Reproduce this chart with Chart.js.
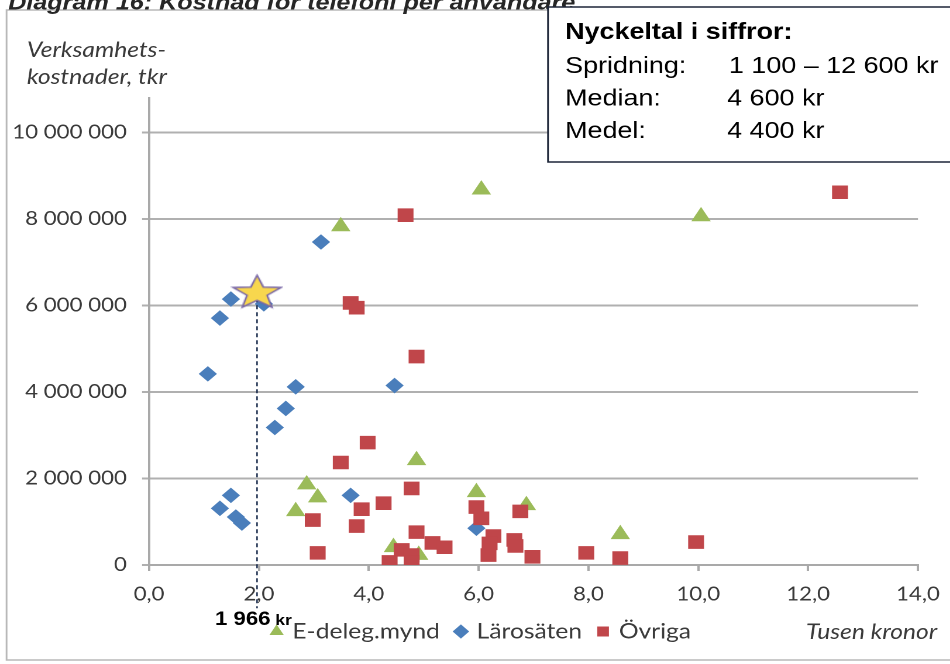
<!DOCTYPE html>
<html>
<head>
<meta charset="utf-8">
<script src="https://cdn.jsdelivr.net/npm/chart.js@4.4.1/dist/chart.umd.min.js"></script>
<style>
  html, body { margin: 0; padding: 0; background: #fff; overflow: hidden; }
  /* the source picture is stretched sideways, so the whole chart is too */
  #wrap { width: 812px; height: 664px; transform: scaleX(1.17); transform-origin: 0 0; }
  #chart { width: 812px; height: 664px; }
</style>
</head>
<body>
<div id="wrap"><canvas id="chart" width="812" height="664"></canvas></div>
<script>
// ── Data (x: tusen kronor per användare, y: verksamhetskostnader, tkr) ──

const seriesNames = ['E-deleg.mynd', 'Lärosäten', 'Övriga'];

const edelegX = [6.05, 10.05, 3.49, 4.87, 2.87, 3.07, 2.67, 5.96, 6.87, 8.58, 4.45, 4.91];
const edelegY = [8680000, 8060000, 7830000, 2420000, 1860000, 1560000, 1240000, 1680000, 1380000, 710000, 410000, 230000];

const larosatenX = [3.13, 1.49, 2.09, 1.29, 1.07, 2.67, 4.47, 2.49, 2.29, 1.49, 1.29, 1.58, 1.69, 3.67, 5.96];
const larosatenY = [7470000, 6150000, 6040000, 5710000, 4420000, 4120000, 4150000, 3620000, 3180000, 1610000, 1310000, 1110000, 970000, 1610000, 850000];

const ovrigaX = [12.58, 4.67, 3.67, 3.78, 4.87, 3.98, 3.49, 4.78, 4.27, 3.87, 2.98, 3.78, 3.07, 4.87, 5.16, 5.38,
                 4.60, 4.78, 4.38, 4.78, 5.96, 6.05, 6.27, 6.20, 6.18, 6.65, 6.67, 6.76, 6.98, 7.96, 8.58, 9.96];
const ovrigaY = [8620000, 8090000, 6060000, 5950000, 4820000, 2830000, 2370000, 1770000, 1430000, 1290000, 1040000, 900000, 280000, 760000, 510000, 410000,
                 350000, 230000, 70000, 70000, 1340000, 1080000, 670000, 500000, 230000, 580000, 440000, 1240000, 190000, 280000, 160000, 530000];

// highlighted organisation (star) and its marker line down past the axis
const starX = 1.966;
const starY = 6330000;
const starLabel = '1 966';

const xTicks = [0, 2, 4, 6, 8, 10, 12, 14];
const yTicks = [0, 2000000, 4000000, 6000000, 8000000, 10000000];

const keyTitle = 'Nyckeltal i siffror:';
const keyNames = ['Spridning:', 'Median:', 'Medel:'];
const keyValues = ['1 100 – 12 600 kr', '4 600 kr', '4 400 kr'];

// ── Helpers ───────────────────────────────────────────────────────────────

const FONT = "Lato, 'Open Sans', sans-serif";
const ARIAL = "'Liberation Sans', Arial, sans-serif";
const toPoints = (xs, ys) => xs.map((x, i) => ({ x, y: ys[i] }));
const spaced = v => String(Math.round(v)).replace(/\B(?=(\d{3})+(?!\d))/g, ' ');

// five-pointed star used as the point image
function makeStar(w, h) {
  const c = document.createElement('canvas');
  c.width = w; c.height = h;
  const g = c.getContext('2d');
  const rx = (w - 4) / 2 / Math.sin(2 * Math.PI / 5);
  const ry = (h - 4) / (1 + Math.cos(Math.PI / 5));
  const cx = w / 2, cy = 2 + ry;
  g.beginPath();
  for (let i = 0; i < 10; i++) {
    const a = -Math.PI / 2 + i * Math.PI / 5;
    const k = i % 2 ? 0.42 : 1;
    const px = cx + Math.cos(a) * rx * k;
    const py = cy + Math.sin(a) * ry * k;
    i ? g.lineTo(px, py) : g.moveTo(px, py);
  }
  g.closePath();
  g.fillStyle = '#f8d74e';
  g.fill();
  g.lineWidth = 1.5;
  g.strokeStyle = '#7866a6';
  g.stroke();
  return c;
}

const decor = {
  id: 'decor',
  beforeDraw(chart) {
    const ctx = chart.ctx;
    ctx.save();
    ctx.strokeStyle = '#b8b8b8';
    ctx.lineWidth = 1.5;
    ctx.strokeRect(5.6, 10, 900, 650);

    // cut-off diagram title, fitted to its width in the source
    const title = 'Diagram 16: Kostnad för telefoni per användare';
    ctx.font = 'italic bold 20px ' + ARIAL;
    const size = 20 * 485 / ctx.measureText(title).width;
    ctx.font = `italic bold ${size}px ` + ARIAL;
    ctx.fillStyle = '#262626';
    ctx.fillText(title, 7, 3.5);

    // y axis title
    ctx.font = 'italic 21px ' + FONT;
    ctx.fillStyle = '#3a3a3a';
    ctx.fillText('Verksamhets-', 23, 50);
    ctx.fillText('kostnader, tkr', 23, 77);
    ctx.restore();
  },
  afterDraw(chart) {
    const ctx = chart.ctx;
    const xs = chart.scales.x;
    ctx.save();

    // x axis title
    ctx.font = 'italic 21px ' + FONT;
    ctx.fillStyle = '#3a3a3a';
    ctx.textAlign = 'right';
    ctx.textBaseline = 'middle';
    ctx.fillText('Tusen kronor', 801, 632);

    // value label under the star
    const lx = xs.getPixelForValue(starX) - 36;
    ctx.textAlign = 'left';
    ctx.textBaseline = 'alphabetic';
    ctx.fillStyle = '#000';
    ctx.font = 'bold 19px ' + ARIAL;
    const w = ctx.measureText(starLabel).width;
    ctx.fillText(starLabel, lx, 625);
    ctx.font = 'bold 15px ' + ARIAL;
    ctx.fillText('kr', lx + w + 4, 625);

    // key figures box
    ctx.fillStyle = '#fff';
    ctx.fillRect(468.4, 7, 400, 155);
    ctx.strokeStyle = '#1d2538';
    ctx.lineWidth = 1.5;
    ctx.strokeRect(468.4, 7, 400, 155);
    ctx.fillStyle = '#000';
    ctx.font = 'bold 23px ' + ARIAL;
    ctx.fillText(keyTitle, 483, 39);
    ctx.font = '23px ' + ARIAL;
    keyNames.forEach((n, i) => {
      const y = 73 + i * 32.5;
      ctx.fillText(n, 483, y);
      ctx.fillText(keyValues[i], i === 0 ? 623 : 621.5, y);
    });
    ctx.restore();
  }
};

// ── Chart ─────────────────────────────────────────────────────────────────

const ctx = document.getElementById('chart').getContext('2d');

new Chart(ctx, {
  type: 'scatter',
  data: {
    datasets: [
      {
        label: seriesNames[0],
        data: toPoints(edelegX, edelegY),
        pointStyle: 'triangle',
        pointRadius: 9.6,
        backgroundColor: '#9bbb59',
        borderColor: '#9bbb59',
        borderWidth: 0,
        order: 4,
      },
      {
        label: seriesNames[1],
        data: toPoints(larosatenX, larosatenY),
        pointStyle: 'rectRot',
        pointRadius: 7.8,
        backgroundColor: '#4a7ebb',
        borderColor: '#4a7ebb',
        borderWidth: 0,
        order: 3,
      },
      {
        label: seriesNames[2],
        data: toPoints(ovrigaX, ovrigaY),
        pointStyle: 'rect',
        pointRadius: 9.6,
        backgroundColor: '#c0464a',
        borderColor: '#c0464a',
        borderWidth: 0,
        order: 2,
      },
      {
        label: 'marker',
        type: 'line',
        data: [{ x: starX, y: starY }, { x: starX, y: -1000000 }],
        borderColor: '#1f3050',
        borderWidth: 1.3,
        borderDash: [4, 3],
        pointRadius: 0,
        showLine: true,
        fill: false,
        clip: false,
        order: 1,
      },
      {
        label: 'star',
        data: [{ x: starX, y: starY }],
        pointStyle: makeStar(45, 36),
        pointRadius: 20,
        order: 0,
      },
    ]
  },
  options: {
    responsive: false,
    animation: false,
    devicePixelRatio: 2,
    events: [],
    layout: { padding: { left: 12, right: 0, top: 98, bottom: 12 } },
    plugins: {
      tooltip: { enabled: false },
      legend: {
        position: 'bottom',
        labels: {
          usePointStyle: true,
          boxWidth: 6,
          boxHeight: 10,
          padding: 15,
          color: '#3a3a3a',
          font: { family: FONT, size: 21 },
          filter: item => seriesNames.includes(item.text),
          sort: (a, b) => a.datasetIndex - b.datasetIndex,
        }
      }
    },
    scales: {
      x: {
        type: 'linear',
        min: 0,
        max: 14,
        afterFit(scale) { scale.height = 41; },
        afterBuildTicks(scale) { scale.ticks = xTicks.map(v => ({ value: v })); },
        ticks: {
          padding: 8,
          color: '#3a3a3a',
          font: { family: FONT, size: 19, lineHeight: 1.63 },
          callback: v => v.toFixed(1).replace('.', ','),
        },
        grid: { drawOnChartArea: false, drawTicks: true, tickLength: 6, color: '#a9a9a9', lineWidth: 2 },
        border: { color: '#a9a9a9', width: 2 },
      },
      y: {
        type: 'linear',
        min: 0,
        max: 10800000,
        afterFit(scale) { scale.width = 115.4; },
        afterBuildTicks(scale) { scale.ticks = yTicks.map(v => ({ value: v })); },
        ticks: {
          padding: 13,
          color: '#3a3a3a',
          font: { family: FONT, size: 19 },
          callback: v => spaced(v),
        },
        grid: { tickLength: 6, color: '#b0b0b0', lineWidth: 2 },
        border: { color: '#a9a9a9', width: 2 },
      },
      // empty right-hand strip so the plot ends where the source's does
      yRight: {
        type: 'linear',
        position: 'right',
        afterFit(scale) { scale.width = 27.4; },
        ticks: { display: false },
        grid: { display: false },
        border: { display: false },
      }
    }
  },
  plugins: [decor]
});
</script>
</body>
</html>
